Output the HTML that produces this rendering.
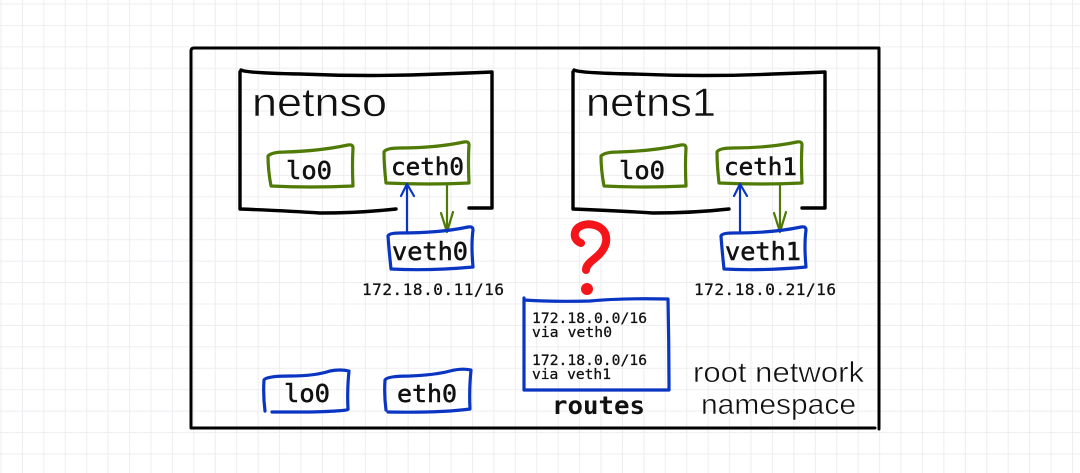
<!DOCTYPE html>
<html><head><meta charset="utf-8"><style>
html,body{margin:0;padding:0;background:#fff;width:1080px;height:473px;overflow:hidden}
svg{display:block}
.m{font-family:"DejaVu Sans Mono","Liberation Mono",monospace;fill:#111;stroke:#111;stroke-width:.55}
.t{stroke-width:.3}
.h{font-family:"Liberation Sans",sans-serif;fill:#111;stroke:#fff;stroke-width:.5;paint-order:normal}
.l{fill:none;stroke-linecap:round;stroke-linejoin:round}
.k{stroke:#000;stroke-width:3.4}
.g{stroke:#4f7a05;stroke-width:3.2}
.b{stroke:#0a35c2;stroke-width:3.2}
.a{stroke-width:2.2}
</style></head><body>
<svg width="1080" height="473" viewBox="0 0 1080 473" xmlns="http://www.w3.org/2000/svg">
<defs>
<pattern id="grid" x="0.5" y="3.5" width="21.43" height="21.43" patternUnits="userSpaceOnUse">
<path d="M0 0H21.43M0 0V21.43" stroke="#ececef" stroke-width="1.8" fill="none"/>
</pattern>
</defs>
<rect width="1080" height="473" fill="#fff"/>
<rect width="1080" height="473" fill="url(#grid)"/>

<!-- outer -->
<path class="l k" style="stroke-width:3" d="M191 51Q191 48 194 48H879V429"/>
<path class="l k" style="stroke-width:3" d="M191 51V428H875"/>

<!-- netns0 -->
<path class="l k" d="M241 70Q246 73 300 74Q370 77 440 74Q470 73 492 72V208H469"/>
<path class="l k" d="M240 72V209Q290 211 320 213Q360 213 396 209"/>
<text class="h" x="252" y="116" font-size="40" textLength="135" lengthAdjust="spacingAndGlyphs">netnso</text>
<path class="l g" d="M268 156Q268 170 271 186Q310 188 353 186Q352 165 353 148Q353 144 348 145Q320 151 285 152Q272 152 268 156Z"/>
<text class="m" x="286" y="179" font-size="25" textLength="46" lengthAdjust="spacingAndGlyphs">lo0</text>
<path class="l g" d="M384 152Q384 165 386 183Q430 185 469 183Q468 160 469 145Q469 141 464 142Q435 148 400 148Q386 148 384 152Z"/>
<text class="m" x="391" y="175" font-size="24" textLength="73" lengthAdjust="spacingAndGlyphs">ceth0</text>
<path class="l b a" d="M407 232V184M401 196L407 184L414 196"/>
<path class="l g a" d="M447 184V232M441 213L447 232L453 212"/>
<path class="l b" d="M388 236Q389 250 391 269Q430 271 473 267Q471 245 473 230Q473 226 468 227Q440 233 400 233Q389 233 388 236Z"/>
<text class="m" x="392" y="260" font-size="25" textLength="76" lengthAdjust="spacingAndGlyphs">veth0</text>
<text class="m t" x="362" y="295" font-size="16" textLength="142">172.18.0.11/16</text>

<!-- netns1 -->
<path class="l k" d="M574 70Q579 73 633 74Q703 77 773 74Q803 73 825 72V208H802"/>
<path class="l k" d="M573 72V209Q623 211 653 213Q693 213 729 209"/>
<text class="h" x="586" y="116" font-size="40" textLength="130" lengthAdjust="spacingAndGlyphs">netns1</text>
<path class="l g" d="M601 156Q601 170 604 186Q643 188 686 186Q685 165 686 148Q686 144 681 145Q653 151 618 152Q605 152 601 156Z"/>
<text class="m" x="619" y="179" font-size="25" textLength="46" lengthAdjust="spacingAndGlyphs">lo0</text>
<path class="l g" d="M717 152Q717 165 719 183Q763 185 802 183Q801 160 802 145Q802 141 797 142Q768 148 733 148Q719 148 717 152Z"/>
<text class="m" x="724" y="175" font-size="24" textLength="73" lengthAdjust="spacingAndGlyphs">ceth1</text>
<path class="l b a" d="M740 232V184M734 196L740 184L747 196"/>
<path class="l g a" d="M780 184V232M774 213L780 232L786 212"/>
<path class="l b" d="M721 236Q722 250 724 269Q763 271 806 267Q804 245 806 230Q806 226 801 227Q773 233 733 233Q722 233 721 236Z"/>
<text class="m" x="725" y="260" font-size="25" textLength="76" lengthAdjust="spacingAndGlyphs">veth1</text>
<text class="m t" x="694" y="295" font-size="16" textLength="142">172.18.0.21/16</text>

<!-- question mark -->
<path class="l" stroke="#f5141a" stroke-width="8" d="M581 243C573 240 573 231 579 227C587 222 600 224 605 233C609 243 603 252 594 259C589 263 586 266 586 270"/>
<circle cx="587" cy="289" r="6" fill="#f5141a"/>

<!-- routes -->
<path class="l b" d="M524 298V390H669Q669 345 668 299Q620 298 590 301Q555 302 524 300"/>
<g class="m t" font-size="14.6">
<text x="532" y="323" textLength="115">172.18.0.0/16</text>
<text x="532" y="337" textLength="80">via veth0</text>
<text x="532" y="365" textLength="115">172.18.0.0/16</text>
<text x="532" y="379" textLength="79">via veth1</text>
</g>
<text class="m" style="stroke-width:0" x="552" y="414" font-size="25" font-weight="bold" textLength="93" lengthAdjust="spacingAndGlyphs">routes</text>
<text class="h" x="693" y="382" font-size="29" textLength="171" lengthAdjust="spacingAndGlyphs">root network</text>
<text class="h" x="701" y="414" font-size="29" textLength="155" lengthAdjust="spacingAndGlyphs">namespace</text>

<!-- root interfaces -->
<path class="l b" d="M265 411Q263 395 264 380Q266 376 290 376Q315 376 330 371Q340 369 349 371Q347 390 348 409Q350 411 310 412Q290 412 272 412"/>
<text class="m" x="284" y="402" font-size="25" textLength="46" lengthAdjust="spacingAndGlyphs">lo0</text>
<path class="l b" d="M386 410Q384 395 385 380Q387 376 410 376Q435 375 450 371Q462 368 471 370Q469 390 470 409Q440 413 388 412"/>
<text class="m" x="397" y="402" font-size="24" textLength="60" lengthAdjust="spacingAndGlyphs">eth0</text>
</svg>
</body></html>
